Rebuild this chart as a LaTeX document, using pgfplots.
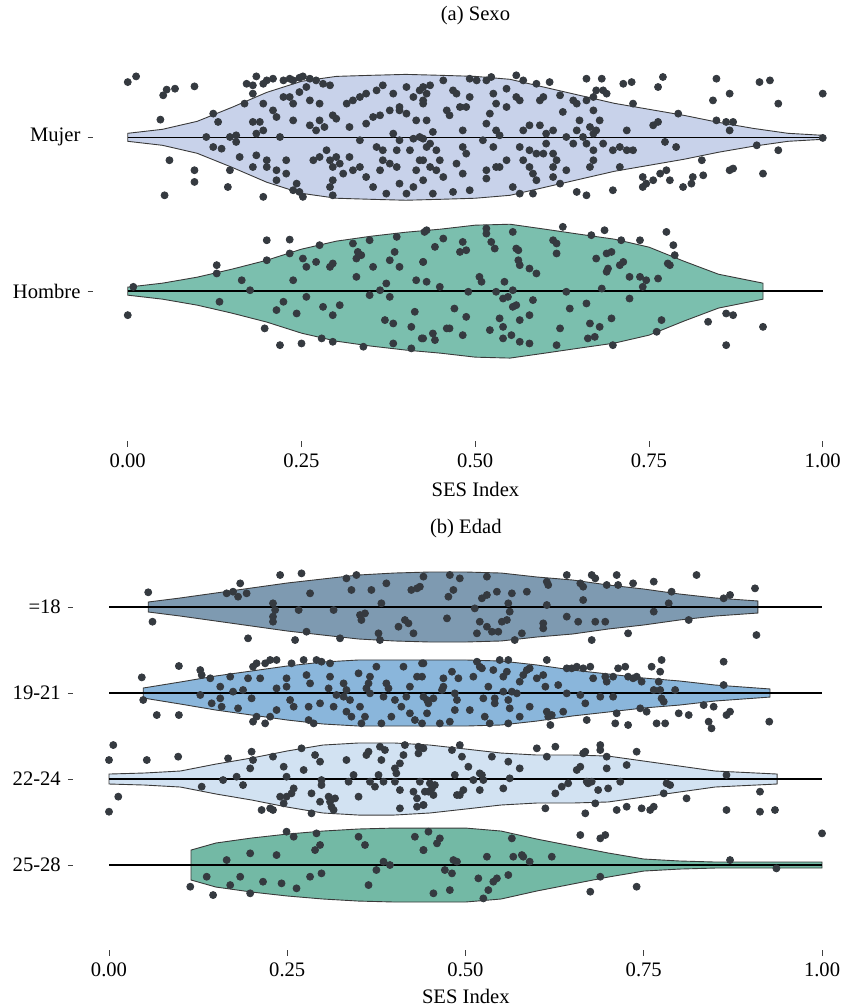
\documentclass[border=0pt]{standalone}
\usepackage{pgfplots}
\pgfplotsset{compat=1.18}
\usepackage{pgfplotstable}
\usepgfplotslibrary{fillbetween}
\usepackage{fontspec}
\setmainfont{Liberation Serif}

\definecolor{cMujer}{HTML}{C8D2EA}
\definecolor{cHombre}{HTML}{7BBFAE}
\definecolor{cA}{HTML}{7E9AB1}
\definecolor{cB}{HTML}{8AB6DB}
\definecolor{cC}{HTML}{D2E2F2}
\definecolor{cD}{HTML}{73B9A5}
\definecolor{edge}{HTML}{3A3A3A}
\definecolor{pt}{HTML}{353A40}

% violin half-widths (in category units) along the SES Index
\pgfplotstableread{
x w
0.00 0.026
0.05 0.052
0.10 0.104
0.15 0.195
0.20 0.292
0.25 0.364
0.30 0.396
0.35 0.403
0.40 0.409
0.45 0.403
0.50 0.396
0.55 0.377
0.60 0.325
0.65 0.273
0.70 0.221
0.75 0.182
0.80 0.143
0.85 0.097
0.90 0.058
0.95 0.026
1.00 0.013
}\vMujer
\pgfplotstableread{
x w
0.000 0.026
0.05 0.052
0.10 0.091
0.15 0.143
0.20 0.201
0.25 0.273
0.30 0.325
0.35 0.357
0.40 0.383
0.45 0.403
0.50 0.429
0.55 0.435
0.60 0.403
0.65 0.370
0.70 0.338
0.75 0.286
0.80 0.195
0.85 0.110
0.914 0.052
}\vHombre
\pgfplotstableread{
x w
0.055 0.058
0.10 0.105
0.15 0.163
0.20 0.221
0.25 0.279
0.30 0.326
0.35 0.372
0.40 0.395
0.45 0.407
0.50 0.407
0.55 0.395
0.60 0.349
0.65 0.314
0.70 0.256
0.75 0.209
0.80 0.151
0.85 0.105
0.910 0.070
}\vA
\pgfplotstableread{
x w
0.048 0.058
0.10 0.128
0.15 0.198
0.20 0.256
0.25 0.314
0.30 0.360
0.35 0.384
0.40 0.384
0.45 0.384
0.50 0.384
0.55 0.372
0.60 0.326
0.65 0.267
0.70 0.221
0.75 0.174
0.80 0.140
0.85 0.093
0.927 0.047
}\vB
\pgfplotstableread{
x w
0.000 0.058
0.05 0.070
0.10 0.093
0.15 0.174
0.20 0.244
0.25 0.326
0.30 0.395
0.35 0.419
0.40 0.419
0.45 0.395
0.50 0.349
0.55 0.302
0.60 0.279
0.65 0.279
0.70 0.267
0.75 0.209
0.80 0.151
0.85 0.093
0.937 0.058
}\vC
\pgfplotstableread{
x w
0.115 0.174
0.15 0.256
0.20 0.314
0.25 0.360
0.30 0.395
0.35 0.419
0.40 0.430
0.45 0.430
0.50 0.430
0.55 0.395
0.60 0.302
0.65 0.221
0.70 0.140
0.75 0.070
0.80 0.047
0.85 0.035
0.90 0.035
0.95 0.035
1.00 0.035
}\vD

% individual observations: SES Index and vertical jitter
\pgfplotstableread[row sep=\\]{x d\\
0.000 0.359\\ 0.012 0.396\\ 0.051 0.273\\ 0.056 0.310\\ 0.068 0.316\\ 0.096 0.331\\ 0.047 0.115\\ 0.060 -0.149\\
0.096 -0.214\\ 0.096 -0.290\\ 0.053 -0.377\\ 0.144 -0.323\\ 0.123 0.154\\ 0.130 0.100\\ 0.113 0.002\\ 0.147 0.002\\
0.156 0.013\\ 0.156 -0.030\\ 0.123 -0.063\\ 0.135 -0.074\\ 0.147 -0.214\\ 0.161 -0.128\\ 0.168 0.219\\ 0.171 0.348\\
0.180 0.338\\ 0.185 0.396\\ 0.195 0.348\\ 0.200 0.370\\ 0.209 0.381\\ 0.224 0.370\\ 0.233 0.381\\ 0.238 0.370\\
0.247 0.387\\ 0.252 0.396\\ 0.262 0.381\\ 0.271 0.370\\ 0.281 0.348\\ 0.291 0.338\\ 0.180 0.284\\ 0.195 0.219\\
0.209 0.175\\ 0.214 0.132\\ 0.224 0.262\\ 0.233 0.262\\ 0.238 0.219\\ 0.247 0.294\\ 0.257 0.327\\ 0.262 0.240\\
0.276 0.219\\ 0.180 0.100\\ 0.190 0.100\\ 0.185 0.024\\ 0.195 0.045\\ 0.219 0.002\\ 0.238 0.110\\ 0.262 0.078\\
0.271 0.045\\ 0.276 0.110\\ 0.283 0.067\\ 0.295 0.143\\ 0.300 0.121\\ 0.315 0.219\\ 0.324 0.240\\ 0.334 0.262\\
0.343 0.284\\ 0.358 0.305\\ 0.367 0.338\\ 0.382 0.284\\ 0.391 0.197\\ 0.401 0.327\\ 0.411 0.262\\ 0.420 0.305\\
0.319 0.067\\ 0.334 -0.019\\ 0.343 0.089\\ 0.353 0.132\\ 0.363 0.143\\ 0.377 0.175\\ 0.391 0.175\\ 0.401 0.154\\
0.415 0.110\\ 0.425 0.240\\ 0.382 0.024\\ 0.391 -0.019\\ 0.411 -0.009\\ 0.420 0.002\\ 0.185 -0.117\\ 0.200 -0.149\\
0.180 -0.193\\ 0.200 -0.193\\ 0.214 -0.214\\ 0.228 -0.149\\ 0.228 -0.236\\ 0.243 -0.301\\ 0.247 -0.355\\ 0.238 -0.344\\
0.252 -0.387\\ 0.214 -0.279\\ 0.267 -0.149\\ 0.276 -0.128\\ 0.286 -0.084\\ 0.291 -0.149\\ 0.295 -0.193\\ 0.295 -0.279\\
0.300 -0.128\\ 0.305 -0.171\\ 0.310 -0.236\\ 0.291 -0.323\\ 0.319 -0.128\\ 0.324 -0.214\\ 0.334 -0.193\\ 0.343 -0.258\\
0.353 -0.323\\ 0.363 -0.214\\ 0.367 -0.149\\ 0.377 -0.171\\ 0.387 -0.193\\ 0.391 -0.301\\ 0.401 -0.366\\ 0.411 -0.323\\
0.358 -0.063\\ 0.367 -0.084\\ 0.387 -0.084\\ 0.406 -0.084\\ 0.420 -0.149\\ 0.415 -0.214\\ 0.430 -0.063\\ 0.195 -0.387\\
0.295 -0.377\\ 0.372 -0.366\\
0.425 0.327\\ 0.430 0.284\\ 0.435 0.338\\ 0.425 0.219\\ 0.430 0.110\\ 0.439 0.035\\ 0.425 -0.009\\ 0.435 -0.041\\
0.444 -0.084\\ 0.425 -0.149\\ 0.435 -0.193\\ 0.444 -0.214\\ 0.425 -0.279\\ 0.439 -0.366\\ 0.454 0.370\\ 0.459 0.175\\
0.463 0.143\\ 0.468 0.305\\ 0.473 0.284\\ 0.478 0.197\\ 0.482 0.045\\ 0.487 0.197\\ 0.492 0.262\\ 0.492 0.381\\
0.502 0.370\\ 0.516 0.370\\ 0.523 0.392\\ 0.526 0.284\\ 0.530 0.219\\ 0.521 0.154\\ 0.516 0.089\\ 0.530 0.045\\
0.535 0.013\\ 0.526 -0.063\\ 0.511 -0.019\\ 0.482 -0.063\\ 0.487 -0.106\\ 0.473 -0.171\\ 0.482 -0.236\\ 0.449 -0.149\\
0.454 -0.258\\ 0.468 -0.355\\ 0.492 -0.344\\ 0.516 -0.268\\ 0.530 -0.193\\ 0.535 -0.193\\ 0.516 -0.214\\ 0.545 -0.149\\
0.545 0.197\\ 0.545 0.316\\ 0.559 0.262\\ 0.564 0.240\\ 0.559 0.403\\ 0.569 0.370\\ 0.578 0.078\\ 0.569 0.045\\
0.588 0.348\\ 0.593 0.240\\ 0.598 0.262\\ 0.593 0.078\\ 0.602 0.024\\ 0.612 0.045\\ 0.602 -0.041\\ 0.564 -0.063\\
0.578 -0.084\\ 0.588 -0.106\\ 0.598 -0.106\\ 0.569 -0.149\\ 0.578 -0.193\\ 0.583 -0.236\\ 0.588 -0.279\\ 0.612 -0.106\\
0.617 -0.149\\ 0.612 -0.193\\ 0.612 -0.258\\ 0.622 -0.301\\ 0.631 -0.214\\ 0.631 0.002\\ 0.641 -0.041\\ 0.646 0.045\\
0.650 0.110\\ 0.655 0.002\\ 0.660 -0.041\\ 0.665 0.067\\ 0.670 0.024\\ 0.674 0.045\\ 0.679 0.110\\ 0.670 0.175\\
0.660 0.240\\ 0.670 0.262\\ 0.674 0.305\\ 0.684 0.305\\ 0.689 0.284\\ 0.622 0.273\\ 0.626 0.165\\ 0.641 0.240\\
0.646 0.219\\ 0.660 0.381\\ 0.682 0.381\\ 0.607 0.359\\ 0.564 -0.366\\ 0.583 -0.366\\ 0.554 -0.323\\ 0.646 -0.355\\
0.660 -0.377\\ 0.698 -0.344\\ 0.670 -0.149\\ 0.665 -0.193\\ 0.670 -0.084\\ 0.684 -0.041\\ 0.698 -0.084\\ 0.708 -0.063\\
0.718 -0.084\\ 0.727 -0.084\\ 0.708 -0.193\\ 0.718 0.045\\ 0.727 0.219\\ 0.713 0.348\\ 0.725 0.359\\ 0.756 0.078\\
0.763 0.100\\ 0.763 0.327\\ 0.770 0.392\\ 0.792 0.154\\ 0.773 -0.030\\ 0.789 -0.063\\ 0.775 -0.214\\ 0.766 -0.236\\
0.756 -0.279\\ 0.741 -0.258\\ 0.741 -0.323\\ 0.746 -0.301\\ 0.780 -0.279\\ 0.799 -0.323\\ 0.811 -0.301\\ 0.813 -0.258\\
0.828 -0.247\\ 0.826 -0.149\\ 0.842 0.240\\ 0.847 0.381\\ 0.866 0.284\\ 0.847 0.110\\ 0.861 0.100\\ 0.871 0.100\\
0.866 0.045\\ 0.866 -0.214\\ 0.871 -0.203\\ 0.905 -0.052\\ 0.914 -0.236\\ 0.936 -0.084\\ 0.936 0.219\\ 0.909 0.359\\
0.924 0.370\\ 1.000 0.284\\ 1.000 -0.004\\
}\pMujer

\pgfplotstableread[row sep=\\]{x d\\
0.008 0.028\\ 0.000 -0.156\\ 0.128 0.169\\ 0.128 0.115\\ 0.132 -0.069\\ 0.164 0.071\\ 0.176 0.006\\ 0.200 0.331\\
0.233 0.335\\ 0.200 0.201\\ 0.233 0.245\\ 0.238 0.071\\ 0.252 0.212\\ 0.257 0.158\\ 0.271 0.190\\ 0.276 0.299\\
0.291 0.158\\ 0.295 0.180\\ 0.324 0.310\\ 0.331 0.255\\ 0.336 0.234\\ 0.329 0.212\\ 0.329 0.093\\ 0.348 0.331\\
0.353 0.158\\ 0.372 0.050\\ 0.377 0.201\\ 0.387 0.353\\ 0.384 0.255\\ 0.391 0.158\\ 0.415 0.071\\ 0.425 0.190\\
0.430 0.396\\ 0.363 0.006\\ 0.348 -0.026\\ 0.377 -0.037\\ 0.257 -0.037\\ 0.224 -0.069\\ 0.214 -0.123\\ 0.243 -0.145\\
0.281 -0.102\\ 0.295 -0.156\\ 0.305 -0.091\\ 0.370 -0.188\\ 0.382 -0.210\\ 0.408 -0.232\\ 0.413 -0.134\\ 0.425 -0.307\\
0.197 -0.242\\ 0.219 -0.351\\ 0.250 -0.340\\ 0.279 -0.307\\ 0.295 -0.329\\ 0.339 -0.361\\ 0.382 -0.340\\ 0.408 -0.372\\
0.427 0.385\\ 0.442 0.288\\ 0.454 0.342\\ 0.425 0.190\\ 0.430 0.061\\ 0.449 0.028\\ 0.482 0.320\\ 0.478 0.255\\
0.487 0.266\\ 0.516 0.407\\ 0.516 0.374\\ 0.523 0.320\\ 0.528 0.277\\ 0.554 0.385\\ 0.559 0.277\\ 0.562 0.266\\
0.562 0.201\\ 0.564 0.169\\ 0.578 0.147\\ 0.588 0.115\\ 0.506 0.093\\ 0.509 0.061\\ 0.542 0.061\\ 0.530 -0.004\\
0.554 0.006\\ 0.490 -0.004\\ 0.540 -0.048\\ 0.547 -0.037\\ 0.554 -0.102\\ 0.559 -0.091\\ 0.583 -0.058\\ 0.564 -0.188\\
0.578 -0.156\\ 0.535 -0.177\\ 0.540 -0.232\\ 0.521 -0.253\\ 0.487 -0.167\\ 0.470 -0.113\\ 0.459 -0.242\\ 0.463 -0.242\\
0.439 -0.275\\ 0.442 -0.318\\ 0.423 -0.307\\ 0.482 -0.286\\ 0.540 -0.307\\ 0.552 -0.286\\ 0.564 -0.329\\ 0.578 -0.340\\
0.612 0.331\\ 0.617 0.310\\ 0.617 0.245\\ 0.626 0.418\\ 0.667 0.364\\ 0.686 0.396\\ 0.674 0.212\\ 0.689 0.245\\
0.696 0.255\\ 0.691 0.147\\ 0.689 0.126\\ 0.708 0.169\\ 0.713 0.190\\ 0.710 0.331\\ 0.737 0.331\\ 0.722 0.093\\
0.737 0.093\\ 0.746 0.071\\ 0.763 0.082\\ 0.741 0.028\\ 0.682 0.017\\ 0.631 -0.004\\ 0.722 -0.048\\ 0.660 -0.080\\
0.636 -0.113\\ 0.665 -0.210\\ 0.679 -0.232\\ 0.696 -0.177\\ 0.672 -0.297\\ 0.662 -0.307\\ 0.622 -0.242\\ 0.617 -0.351\\
0.698 -0.351\\ 0.768 -0.188\\ 0.761 -0.264\\ 0.775 0.385\\ 0.785 0.299\\ 0.787 0.234\\ 0.777 0.180\\ 0.780 0.169\\
0.835 -0.199\\ 0.861 -0.145\\ 0.871 -0.156\\ 0.861 -0.351\\ 0.914 -0.232\\
}\pHombre

\pgfplotstableread[row sep=\\]{x d\\
0.055 0.171\\ 0.061 -0.171\\ 0.195 -0.364\\ 0.261 -0.384\\ 0.240 0.372\\ 0.270 0.391\\ 0.184 0.275\\ 0.165 0.159\\
0.174 0.178\\ 0.181 0.120\\ 0.193 0.159\\ 0.230 0.043\\ 0.233 -0.035\\ 0.230 -0.112\\ 0.230 -0.171\\ 0.266 -0.035\\
0.282 0.159\\ 0.315 -0.035\\ 0.324 -0.364\\ 0.277 -0.287\\ 0.333 0.333\\ 0.340 0.198\\ 0.347 0.372\\ 0.352 -0.093\\
0.354 -0.151\\ 0.359 -0.074\\ 0.382 0.043\\ 0.368 0.198\\ 0.389 0.275\\ 0.380 -0.384\\ 0.378 -0.306\\ 0.406 -0.229\\
0.415 -0.151\\ 0.420 -0.190\\ 0.427 -0.306\\ 0.424 0.198\\ 0.432 0.217\\ 0.441 0.353\\
0.436 0.236\\ 0.478 0.372\\ 0.492 0.333\\ 0.483 0.198\\ 0.476 0.120\\ 0.530 0.353\\ 0.513 -0.016\\ 0.474 -0.132\\
0.523 0.101\\ 0.530 0.140\\ 0.544 0.178\\ 0.560 0.043\\ 0.565 0.159\\ 0.562 -0.054\\ 0.586 0.178\\ 0.520 -0.171\\
0.530 -0.229\\ 0.537 -0.287\\ 0.546 -0.287\\ 0.551 -0.171\\ 0.558 -0.151\\ 0.516 -0.306\\ 0.569 -0.384\\ 0.579 -0.306\\
0.614 0.295\\ 0.616 0.256\\ 0.614 0.023\\ 0.609 -0.190\\ 0.609 -0.248\\ 0.642 0.372\\ 0.642 -0.112\\ 0.658 -0.171\\
0.665 0.081\\ 0.661 0.275\\ 0.665 0.236\\ 0.677 0.372\\ 0.682 0.333\\ 0.698 0.256\\ 0.712 0.372\\ 0.714 0.256\\
0.735 0.275\\ 0.764 0.295\\ 0.764 -0.054\\ 0.785 0.043\\ 0.789 0.178\\ 0.824 0.372\\ 0.813 -0.151\\ 0.862 0.101\\
0.871 0.140\\ 0.906 0.217\\ 0.682 -0.171\\ 0.696 -0.171\\ 0.677 -0.384\\ 0.728 -0.306\\ 0.908 -0.326\\
}\pA

\pgfplotstableread[row sep=\\]{x d\\
0.046 0.182\\ 0.048 -0.081\\ 0.067 -0.256\\ 0.098 0.314\\ 0.098 -0.256\\ 0.128 0.267\\ 0.130 0.209\\ 0.128 -0.023\\
0.142 0.171\\ 0.144 -0.120\\ 0.156 0.074\\ 0.156 -0.062\\ 0.158 -0.159\\ 0.170 0.190\\ 0.174 0.016\\ 0.181 -0.178\\
0.188 0.035\\ 0.195 0.171\\ 0.200 -0.062\\ 0.202 0.306\\ 0.207 0.345\\ 0.212 0.171\\ 0.219 0.345\\ 0.226 0.384\\
0.235 0.384\\ 0.235 0.054\\ 0.219 -0.353\\ 0.207 -0.275\\ 0.202 -0.333\\ 0.235 -0.198\\ 0.226 -0.275\\ 0.249 0.171\\
0.249 0.074\\ 0.254 -0.081\\ 0.256 0.345\\ 0.259 -0.159\\ 0.273 0.384\\ 0.277 0.209\\ 0.282 0.112\\ 0.280 -0.159\\
0.280 -0.314\\ 0.287 -0.353\\ 0.291 0.384\\ 0.298 0.364\\ 0.308 0.054\\ 0.310 0.345\\ 0.315 -0.159\\ 0.319 -0.023\\
0.329 0.112\\ 0.329 -0.043\\ 0.333 0.035\\ 0.333 -0.217\\ 0.340 -0.275\\ 0.338 -0.081\\ 0.350 0.229\\ 0.352 -0.159\\
0.354 -0.353\\ 0.361 0.054\\ 0.364 0.112\\ 0.366 0.190\\ 0.366 -0.004\\ 0.375 0.306\\ 0.385 -0.043\\ 0.382 -0.353\\
0.389 0.112\\ 0.396 -0.275\\ 0.392 0.054\\ 0.401 -0.081\\ 0.410 -0.159\\ 0.413 0.306\\ 0.417 -0.043\\ 0.422 -0.236\\
0.422 0.074\\ 0.429 -0.314\\ 0.432 0.190\\ 0.439 0.345\\ 0.446 -0.081\\ 0.446 -0.236\\ 0.359 -0.275\\ 0.296 -0.120\\
0.310 0.190\\
0.441 0.345\\ 0.439 0.190\\ 0.441 -0.043\\ 0.439 -0.353\\ 0.464 -0.353\\ 0.478 -0.333\\ 0.448 -0.120\\ 0.455 -0.062\\
0.469 0.171\\ 0.469 0.074\\ 0.467 0.035\\ 0.481 0.248\\ 0.490 0.171\\ 0.485 -0.004\\ 0.488 -0.081\\ 0.485 -0.198\\
0.506 -0.198\\ 0.511 0.190\\ 0.516 0.364\\ 0.520 0.306\\ 0.523 0.287\\ 0.525 -0.062\\ 0.527 -0.275\\ 0.534 -0.353\\
0.532 0.074\\ 0.539 0.267\\ 0.541 -0.062\\ 0.541 -0.120\\ 0.548 0.384\\ 0.553 0.190\\ 0.553 0.016\\ 0.558 0.248\\
0.560 0.384\\ 0.560 -0.081\\ 0.560 -0.353\\ 0.562 -0.178\\ 0.565 0.016\\ 0.572 -0.004\\ 0.576 0.132\\ 0.576 -0.275\\
0.581 0.209\\ 0.586 0.267\\ 0.590 -0.159\\ 0.590 0.287\\ 0.600 0.171\\ 0.609 0.209\\ 0.612 0.074\\ 0.614 0.384\\
0.614 -0.217\\ 0.616 -0.275\\ 0.621 -0.256\\ 0.619 -0.372\\ 0.630 0.093\\ 0.637 -0.217\\ 0.642 0.287\\ 0.642 -0.004\\
0.649 0.287\\ 0.656 0.306\\ 0.665 0.287\\ 0.661 -0.023\\ 0.668 -0.120\\ 0.670 -0.314\\ 0.675 0.306\\ 0.679 0.171\\
0.689 -0.043\\ 0.696 0.190\\ 0.698 0.132\\ 0.707 0.190\\ 0.707 -0.043\\ 0.712 -0.236\\ 0.714 0.287\\ 0.724 0.306\\
0.728 0.190\\ 0.735 0.171\\ 0.740 0.190\\ 0.747 0.132\\ 0.745 -0.178\\ 0.754 -0.217\\ 0.761 0.306\\ 0.764 0.035\\
0.771 0.132\\ 0.773 0.248\\ 0.775 0.384\\ 0.773 0.035\\ 0.775 -0.062\\ 0.778 -0.101\\ 0.794 0.035\\ 0.710 -0.353\\
0.728 -0.372\\ 0.768 -0.353\\ 0.780 -0.353\\ 0.799 -0.236\\ 0.813 -0.256\\ 0.834 -0.140\\ 0.841 -0.333\\ 0.848 -0.159\\
0.845 -0.411\\ 0.866 -0.256\\ 0.871 -0.217\\ 0.862 0.093\\ 0.862 0.364\\ 0.926 -0.333\\
}\pB

\pgfplotstableread[row sep=\\]{x d\\
0.006 0.395\\ 0.000 0.221\\ 0.053 0.221\\ 0.097 0.260\\ 0.013 -0.205\\ 0.000 -0.380\\ 0.130 -0.089\\ 0.160 -0.012\\
0.179 0.027\\ 0.188 -0.070\\ 0.167 0.240\\ 0.200 0.318\\ 0.202 0.221\\ 0.198 0.124\\ 0.230 0.260\\ 0.245 0.143\\
0.249 0.027\\ 0.259 -0.109\\ 0.256 -0.167\\ 0.240 -0.205\\ 0.249 -0.205\\ 0.245 -0.283\\ 0.230 -0.360\\ 0.214 -0.360\\
0.226 -0.341\\ 0.270 0.357\\ 0.273 0.105\\ 0.284 -0.167\\ 0.289 0.279\\ 0.296 0.202\\ 0.298 -0.012\\ 0.298 -0.070\\
0.296 -0.264\\ 0.308 -0.205\\ 0.310 -0.264\\ 0.312 -0.322\\ 0.315 -0.360\\ 0.317 -0.225\\ 0.333 0.221\\ 0.336 -0.031\\
0.343 0.047\\ 0.350 -0.205\\ 0.361 0.279\\ 0.364 0.318\\ 0.366 -0.031\\ 0.373 -0.089\\ 0.380 0.376\\ 0.382 0.221\\
0.387 0.337\\ 0.378 0.047\\ 0.385 -0.031\\ 0.401 0.124\\ 0.403 0.066\\ 0.408 0.182\\ 0.401 -0.031\\ 0.408 -0.128\\
0.413 0.279\\ 0.415 0.395\\ 0.427 -0.147\\ 0.432 -0.225\\ 0.434 0.376\\ 0.434 0.298\\ 0.436 -0.031\\ 0.432 -0.322\\
0.441 -0.302\\ 0.408 -0.341\\ 0.448 -0.147\\ 0.284 -0.399\\
0.441 0.357\\ 0.443 -0.147\\ 0.441 -0.302\\ 0.453 -0.109\\ 0.455 -0.186\\ 0.450 -0.050\\ 0.457 -0.070\\ 0.481 0.337\\
0.492 0.395\\ 0.495 0.260\\ 0.485 0.047\\ 0.488 -0.186\\ 0.492 -0.186\\ 0.497 -0.128\\ 0.504 0.143\\ 0.511 -0.012\\
0.520 0.066\\ 0.523 0.047\\ 0.525 -0.012\\ 0.520 -0.128\\ 0.537 0.260\\ 0.560 0.202\\ 0.562 0.008\\ 0.576 0.124\\
0.553 -0.109\\ 0.600 0.357\\ 0.614 0.260\\ 0.626 0.376\\ 0.612 -0.341\\ 0.626 -0.167\\ 0.635 -0.089\\ 0.644 -0.050\\
0.656 0.105\\ 0.661 0.143\\ 0.665 0.298\\ 0.668 0.318\\ 0.670 -0.031\\ 0.672 -0.050\\ 0.677 -0.031\\ 0.682 -0.283\\
0.686 -0.128\\ 0.689 0.395\\ 0.689 0.337\\ 0.698 0.124\\ 0.698 0.260\\ 0.700 -0.109\\ 0.668 -0.399\\ 0.712 -0.360\\
0.717 -0.031\\ 0.726 0.163\\ 0.726 -0.322\\ 0.740 0.318\\ 0.747 -0.341\\ 0.759 -0.360\\ 0.764 -0.322\\ 0.778 -0.167\\
0.782 -0.050\\ 0.787 -0.070\\ 0.810 -0.225\\ 0.866 0.047\\ 0.866 -0.360\\ 0.913 -0.147\\ 0.913 -0.380\\ 0.934 -0.360\\
}\pC

\pgfplotstableread[row sep=\\]{x d\\
0.114 -0.252\\ 0.137 -0.136\\ 0.146 -0.349\\ 0.165 0.058\\ 0.170 -0.233\\ 0.184 -0.136\\ 0.198 0.136\\ 0.198 -0.329\\
0.216 -0.194\\ 0.235 0.116\\ 0.242 -0.213\\ 0.249 0.388\\ 0.259 0.329\\ 0.263 -0.271\\ 0.282 -0.136\\ 0.289 0.174\\
0.296 0.233\\ 0.298 -0.097\\ 0.291 0.368\\ 0.350 0.329\\ 0.359 0.233\\ 0.364 -0.233\\ 0.375 -0.058\\ 0.385 0.039\\
0.394 0.000\\ 0.429 0.329\\ 0.441 0.174\\
0.448 0.388\\ 0.441 0.174\\ 0.460 0.252\\ 0.464 0.310\\ 0.455 -0.329\\ 0.478 -0.291\\ 0.471 -0.058\\ 0.481 -0.097\\
0.483 0.058\\ 0.488 0.039\\ 0.518 -0.155\\ 0.525 -0.388\\ 0.530 0.097\\ 0.532 -0.291\\ 0.539 -0.194\\ 0.544 -0.155\\
0.560 -0.116\\ 0.565 0.310\\ 0.567 0.097\\ 0.579 0.116\\ 0.581 0.097\\ 0.590 0.039\\ 0.621 0.097\\ 0.661 0.349\\
0.675 -0.310\\ 0.689 -0.136\\ 0.689 0.310\\ 0.696 0.349\\ 0.740 -0.252\\ 0.871 0.058\\ 0.936 -0.039\\ 1.000 0.368\\
}\pD

% a violin centred on category #2, filled with #3, from profile #1; #4 names its edges
\newcommand{\violin}[4]{%
  \addplot[draw=none, name path=#4U, forget plot] table[x=x, y expr=#2+\thisrow{w}] {#1};
  \addplot[draw=none, name path=#4L, forget plot] table[x=x, y expr=#2-\thisrow{w}] {#1};
  \addplot[fill=#3, draw=edge, line width=0.45pt, forget plot] fill between[of=#4U and #4L];
  \addplot[black, line width=0.7pt, forget plot] coordinates {(0,#2) (1,#2)};
}
\newcommand{\jitter}[2]{%
  \addplot[only marks, mark=*, mark size=1.75pt, color=pt, forget plot]
    table[x=x, y expr=#2+\thisrow{d}] {#1};
}

\pgfplotsset{
  sesaxis/.style={
    scale only axis, clip=false,
    axis line style={draw=none},
    tick align=outside, xtick pos=left, ytick pos=left,
    major tick length=2.75pt,
    tick style={color=black!75, line width=0.5pt},
    xtick={0,0.25,0.5,0.75,1},
    xticklabels={0.00,0.25,0.50,0.75,1.00},
    /pgf/number format/assume math mode=true,
    xlabel={SES Index},
  },
}

\begin{document}
\begin{tikzpicture}[font=\fontsize{10.3pt}{12pt}\selectfont]

\begin{axis}[sesaxis,
  at={(46.5pt,-220.5pt)}, anchor=south west,
  width=373.5pt, height=198pt,
  xmin=-0.05, xmax=1.0248, ymin=0.026, ymax=2.6,
  ytick={1,2}, yticklabels={Hombre,Mujer},
  title={(a) Sexo},
  title style={at={(rel axis cs:0.512,1)}, anchor=base, yshift=6.25pt},
  xlabel style={at={(rel axis cs:0.512,0)}, anchor=base, yshift=-27.75pt},
]
\violin{\vMujer}{2}{cMujer}{m}
\violin{\vHombre}{1}{cHombre}{h}
\jitter{\pMujer}{2}
\jitter{\pHombre}{1}
\end{axis}

\begin{axis}[sesaxis,
  at={(36.675pt,-475pt)}, anchor=south west,
  width=383.25pt, height=197.3pt,
  xmin=-0.05, xmax=1.025, ymin=0.012, ymax=4.6,
  ytick={1,2,3,4}, yticklabels={25-28,22-24,19-21,=18},
  title={(b) Edad},
  title style={at={(rel axis cs:0.512,1)}, anchor=base, yshift=4.9pt},
  xlabel style={at={(rel axis cs:0.512,0)}, anchor=base, yshift=-26.75pt},
]
\violin{\vA}{4}{cA}{a}
\violin{\vB}{3}{cB}{b}
\violin{\vC}{2}{cC}{c}
\violin{\vD}{1}{cD}{d}
\jitter{\pA}{4}
\jitter{\pB}{3}
\jitter{\pC}{2}
\jitter{\pD}{1}
\end{axis}

% page frame
\pgfresetboundingbox
\path (0,0) rectangle (422.5pt,-503.5pt);
\end{tikzpicture}
\end{document}
